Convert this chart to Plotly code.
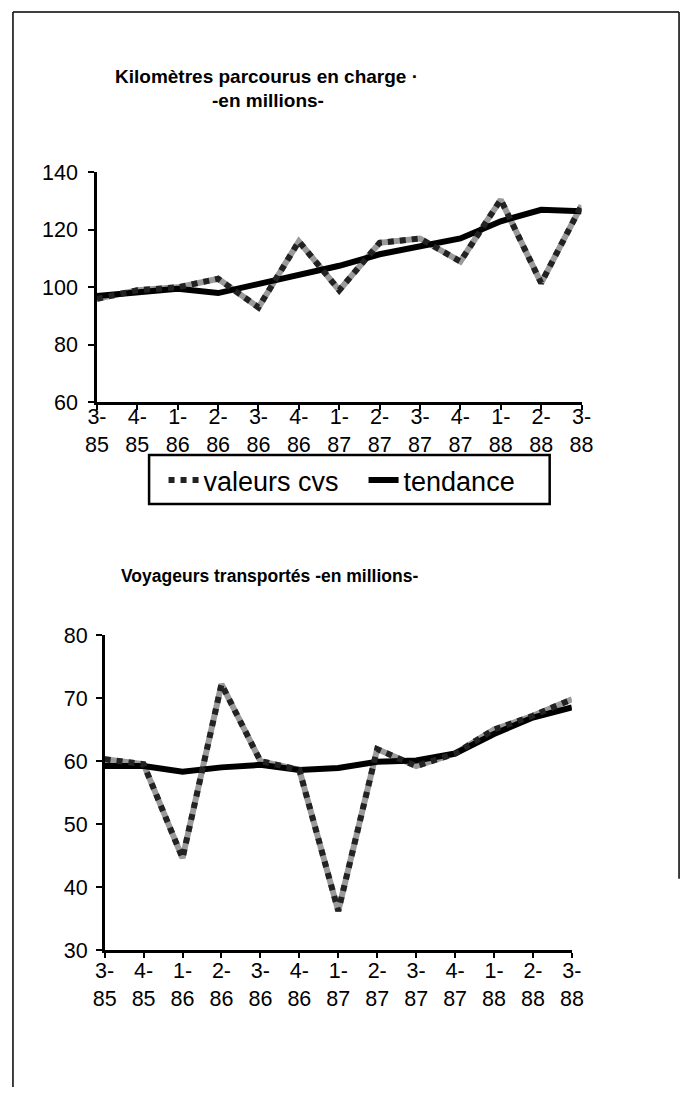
import plotly.graph_objects as go

quarters = ["3-85", "4-85", "1-86", "2-86", "3-86", "4-86", "1-87",
            "2-87", "3-87", "4-87", "1-88", "2-88", "3-88"]
tick_text = [q.replace("-", "-<br>") for q in quarters]

km_cvs = [96, 99, 100, 103, 93, 116, 99, 115.5, 117, 109, 130.5, 101.5, 128.5]
km_trend = [97, 98, 99.5, 98, 101, 104, 107.5, 111.5, 114.5, 117, 123, 127, 126.5]

voy_cvs = [60.3, 59.5, 44.6, 72.2, 60.0, 58.6, 36.2, 61.9, 59.2, 61.2, 65.0, 67.2, 69.8]
voy_trend = [59.2, 59.2, 58.3, 59.0, 59.4, 58.6, 58.9, 59.9, 60.1, 61.2, 64.3, 66.9, 68.5]

W, H = 692, 1100
FONT = "Liberation Sans, Arial, Helvetica, sans-serif"

def px_x(p):
    return p / W

def px_y(p):
    return 1 - p / H

fig = go.Figure()

def add_series(cvs, trend, xa, ya, legend):
    fig.add_trace(go.Scatter(x=quarters, y=cvs, mode="lines", xaxis=xa, yaxis=ya,
                             line=dict(color="#9a9a9a", width=6), showlegend=False,
                             hoverinfo="skip"))
    fig.add_trace(go.Scatter(x=quarters, y=trend, mode="lines", xaxis=xa, yaxis=ya,
                             name="tendance", line=dict(color="black", width=6),
                             showlegend=legend))
    fig.add_trace(go.Scatter(x=quarters, y=cvs, mode="lines", xaxis=xa, yaxis=ya,
                             name="valeurs cvs",
                             line=dict(color="#222222", width=6, dash="dot"),
                             showlegend=legend))

add_series(km_cvs, km_trend, "x", "y", True)
add_series(voy_cvs, voy_trend, "x2", "y2", False)

axis_common = dict(showline=True, linecolor="black", linewidth=2.5, ticks="outside",
                   tickcolor="black", tickwidth=2, showgrid=False, zeroline=False,
                   tickfont=dict(family=FONT, size=21.5, color="black"))

fig.update_layout(
    width=W, height=H, margin=dict(l=0, r=0, t=0, b=0),
    paper_bgcolor="white", plot_bgcolor="white",
    font=dict(family=FONT, color="black"),
    xaxis=dict(domain=[px_x(88), px_x(590)], anchor="y", type="category",
               categoryorder="array", categoryarray=quarters,
               range=[0, 12], tickvals=quarters, ticktext=tick_text, ticklen=5,
               ticklabelstandoff=-12, **axis_common),
    yaxis=dict(domain=[px_y(400), px_y(165)], anchor="x", range=[60, 140], dtick=20,
               ticklen=6, ticklabelstandoff=6, **axis_common),
    xaxis2=dict(domain=[px_x(96), px_x(580)], anchor="y2", type="category",
                categoryorder="array", categoryarray=quarters,
                range=[0, 12], tickvals=quarters, ticktext=tick_text, ticklen=5,
                ticklabelstandoff=-6, **axis_common),
    yaxis2=dict(domain=[px_y(960), px_y(638)], anchor="x2", range=[30, 80], dtick=10,
                ticklen=6, ticklabelstandoff=4, **axis_common),
    legend=dict(orientation="h", x=px_x(157), y=px_y(480), xanchor="left", yanchor="middle",
                borderwidth=0, bgcolor="rgba(0,0,0,0)",
                font=dict(family=FONT, size=27, color="black"),
                traceorder="reversed", itemwidth=30,
                entrywidth=155, entrywidthmode="pixels"),
    annotations=[
        dict(text="<b>Kilomètres parcourus en charge ·</b>", x=px_x(264), y=px_y(54),
             xref="paper", yref="paper", showarrow=False,
             font=dict(family=FONT, size=19, color="black")),
        dict(text="<b>-en millions-</b>", x=px_x(265), y=px_y(79),
             xref="paper", yref="paper", showarrow=False,
             font=dict(family=FONT, size=19, color="black")),
        dict(text="<b>Voyageurs transportés -en millions-</b>", x=px_x(267), y=px_y(578),
             xref="paper", yref="paper", showarrow=False,
             font=dict(family=FONT, size=17.5, color="black")),
    ],
    shapes=[
        dict(type="rect", xref="paper", yref="paper", x0=px_x(142), x1=px_x(557),
             y0=px_y(504), y1=px_y(454), line=dict(color="black", width=2.5)),
        dict(type="line", xref="paper", yref="paper", x0=px_x(1), x1=px_x(1),
             y0=px_y(1), y1=0, line=dict(color="black", width=1.5)),
        dict(type="line", xref="paper", yref="paper", x0=px_x(1), x1=px_x(691),
             y0=px_y(1), y1=px_y(1), line=dict(color="black", width=1.5)),
        dict(type="line", xref="paper", yref="paper", x0=px_x(691), x1=px_x(691),
             y0=px_y(1), y1=px_y(887), line=dict(color="black", width=1.5)),
    ],
)

fig.write_html("out.html", config={"displayModeBar": False},
               post_script="document.body.style.margin='0';document.body.style.overflow='hidden';")
